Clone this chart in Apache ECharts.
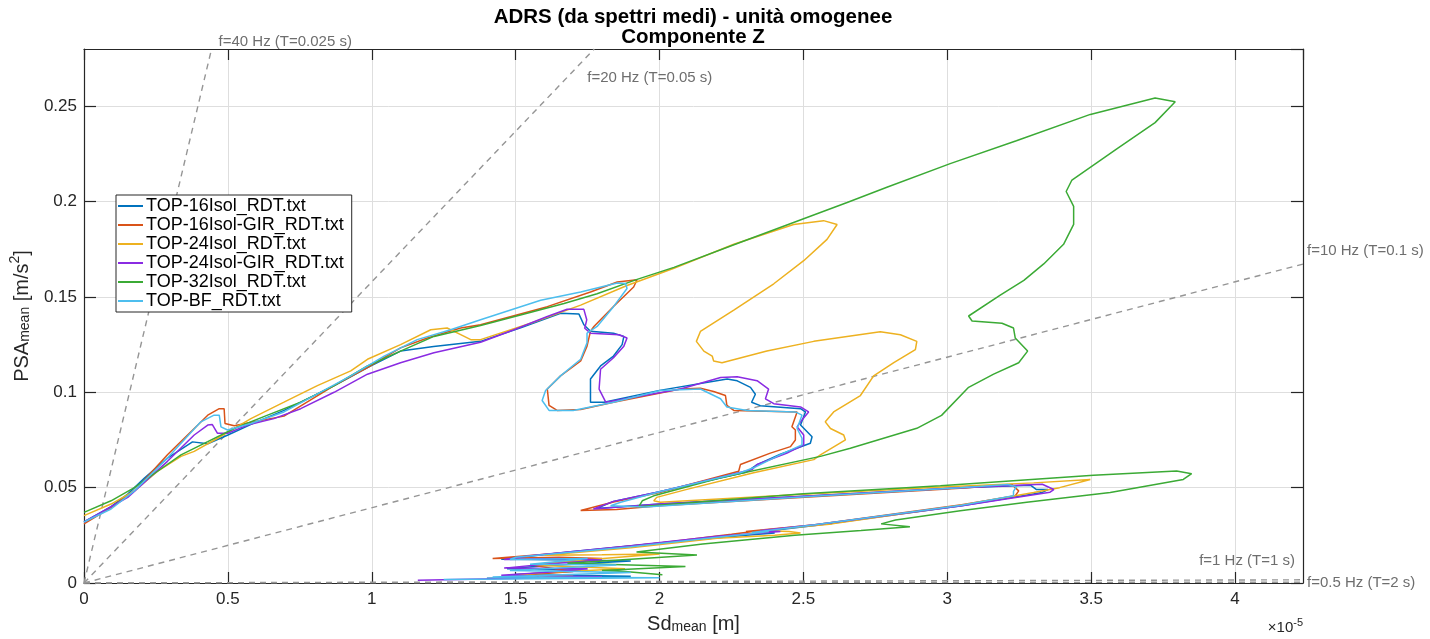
<!DOCTYPE html>
<html>
<head>
<meta charset="utf-8">
<script src="https://cdn.jsdelivr.net/npm/echarts@6/dist/echarts.min.js"></script>
<style>
  html, body { margin: 0; padding: 0; background: #fff; }
  #chart { width: 1430px; height: 639px; }
</style>
</head>
<body>
<div id="chart"></div>
<script>
// Sd values are in units of 1e-5 m (axis shows x10^-5), PSA in m/s^2
const NAMES = ['TOP-16Isol_RDT.txt', 'TOP-16Isol-GIR_RDT.txt', 'TOP-24Isol_RDT.txt',
  'TOP-24Isol-GIR_RDT.txt', 'TOP-32Isol_RDT.txt', 'TOP-BF_RDT.txt']
const COLORS = ['#0072BD', '#D95319', '#EDB120', '#8A2BE2', '#3BAA35', '#4DBEEE']

const X_TICKS = [0, 0.5, 1, 1.5, 2, 2.5, 3, 3.5, 4]
const Y_TICKS = [0, 0.05, 0.1, 0.15, 0.2, 0.25]
const X_MAX = 4.236
const Y_MAX = 0.28

// constant frequency lines (PSA = (2*pi*f)^2 * Sd)
const REF_FREQ = [40, 20, 10, 1, 0.5]
const REF_LABELS = ['f=40 Hz (T=0.025 s)', 'f=20 Hz (T=0.05 s)', 'f=10 Hz (T=0.1 s)', 'f=1 Hz (T=1 s)', 'f=0.5 Hz (T=2 s)']

const TOP16 = [
  [0, 0.032], [0.094, 0.040], [0.152, 0.0466], [0.21, 0.055], [0.29, 0.0655], [0.377, 0.074], [0.43, 0.073],
  [0.5, 0.0776], [0.59, 0.0838], [0.695, 0.0905], [0.87, 0.1035], [0.985, 0.113], [1.1, 0.1216], [1.215, 0.124],
  [1.378, 0.1267], [1.52, 0.134], [1.656, 0.1414], [1.72, 0.141], [1.737, 0.1354], [1.76, 0.132], [1.84, 0.131],
  [1.876, 0.1293], [1.87, 0.125], [1.84, 0.119], [1.795, 0.1138], [1.76, 0.107], [1.76, 0.0948], [1.807, 0.0948],
  [2.0, 0.101], [2.235, 0.107], [2.27, 0.106], [2.316, 0.1026], [2.333, 0.099], [2.32, 0.0948], [2.35, 0.093],
  [2.49, 0.0914], [2.507, 0.0897], [2.49, 0.0828], [2.53, 0.0767], [2.524, 0.0733], [2.42, 0.0675], [2.339, 0.0621],
  [2.3, 0.058], [2.0, 0.0478], [1.84, 0.0428], [1.78, 0.039], [2.0, 0.0414], [2.535, 0.0457], [3.045, 0.05],
  [3.29, 0.0512], [3.31, 0.049], [3.35, 0.049], [3.33, 0.0475], [3.05, 0.0405], [2.54, 0.0302], [2.36, 0.027],
  [2.4, 0.0262], [2.3, 0.025], [2.0, 0.021], [1.7, 0.0165], [1.45, 0.0125], [1.7, 0.012], [1.9, 0.0115],
  [1.6, 0.009], [1.47, 0.0075], [1.75, 0.0065], [1.5, 0.0045], [1.9, 0.0035], [1.4, 0.0025]
]
const TOP16GIR = [
  [0, 0.031], [0.094, 0.0395], [0.175, 0.0483], [0.29, 0.0672], [0.43, 0.088], [0.47, 0.0914], [0.487, 0.0914],
  [0.49, 0.0836], [0.522, 0.0824], [0.591, 0.0845], [0.695, 0.0875], [0.869, 0.1035], [0.985, 0.113], [1.1, 0.1233],
  [1.193, 0.1285], [1.309, 0.1337], [1.378, 0.1354], [1.61, 0.1449], [1.76, 0.1526], [1.853, 0.1578], [1.922, 0.159],
  [1.91, 0.1552], [1.84, 0.145], [1.772, 0.1345], [1.76, 0.132], [1.748, 0.1242], [1.726, 0.1164], [1.656, 0.1086],
  [1.61, 0.1017], [1.616, 0.0931], [1.644, 0.0905], [1.726, 0.091], [1.84, 0.0948], [2.073, 0.1017], [2.142, 0.1021],
  [2.188, 0.1004], [2.229, 0.0983], [2.234, 0.0931], [2.258, 0.0905], [2.478, 0.0897], [2.46, 0.0819], [2.472, 0.0802],
  [2.472, 0.075], [2.455, 0.0715], [2.385, 0.0681], [2.281, 0.0621], [2.275, 0.0586], [2.0, 0.0475], [1.84, 0.0425],
  [1.726, 0.038], [1.85, 0.0385], [2.0, 0.0405], [2.535, 0.0452], [3.045, 0.0497], [3.224, 0.0517], [3.248, 0.0483],
  [3.236, 0.0457], [3.05, 0.041], [2.54, 0.0305], [2.3, 0.027], [2.38, 0.028], [2.25, 0.0255], [2.0, 0.021],
  [1.7, 0.0163], [1.42, 0.0128], [1.65, 0.0135], [1.8, 0.0128], [1.55, 0.0095], [1.7, 0.006], [1.55, 0.0045], [1.58, 0.0035]
]
const TOP24 = [
  [0, 0.0353], [0.094, 0.0414], [0.175, 0.0483], [0.256, 0.0586], [0.337, 0.0664], [0.383, 0.069], [0.464, 0.0759],
  [0.58, 0.0862], [0.695, 0.0948], [0.811, 0.1035], [0.927, 0.1112], [0.985, 0.1173], [1.1, 0.125], [1.205, 0.1328],
  [1.262, 0.1337], [1.309, 0.1302], [1.344, 0.1276], [1.378, 0.1276], [1.552, 0.1362], [1.726, 0.1457], [1.887, 0.156],
  [2.05, 0.165], [2.258, 0.1776], [2.466, 0.188], [2.57, 0.19], [2.617, 0.188], [2.582, 0.1802], [2.501, 0.169],
  [2.397, 0.1569], [2.258, 0.1431], [2.142, 0.1319], [2.128, 0.1267], [2.154, 0.1216], [2.183, 0.119], [2.188, 0.1164],
  [2.217, 0.1155], [2.373, 0.1216], [2.536, 0.1267], [2.767, 0.1317], [2.837, 0.1302], [2.894, 0.1267], [2.889, 0.1224],
  [2.814, 0.1155], [2.744, 0.1086], [2.698, 0.0983], [2.605, 0.0897], [2.576, 0.0845], [2.594, 0.081], [2.64, 0.0776],
  [2.646, 0.075], [2.559, 0.0672], [2.536, 0.0647], [2.327, 0.0578], [2.095, 0.0491], [1.99, 0.0449], [1.98, 0.0431],
  [2.003, 0.0423], [2.5, 0.0465], [3.0, 0.0505], [3.3, 0.0525], [3.497, 0.0543], [3.39, 0.05], [3.3, 0.0475],
  [3.05, 0.0408], [2.6, 0.031], [2.35, 0.0275], [2.45, 0.027], [2.49, 0.0262], [2.4, 0.025], [2.2, 0.0235],
  [1.9, 0.0185], [1.6, 0.0145], [1.8, 0.0148], [2.0, 0.0152], [1.75, 0.0122], [1.55, 0.0095], [1.88, 0.0075],
  [1.6, 0.0055], [1.5, 0.0042], [1.7, 0.0035]
]
const TOP24GIR = [
  [0, 0.032], [0.152, 0.0449], [0.29, 0.0638], [0.383, 0.0776], [0.43, 0.0828], [0.446, 0.0831], [0.464, 0.0785],
  [0.499, 0.0785], [0.568, 0.0828], [0.66, 0.0862], [0.753, 0.0914], [0.869, 0.1], [0.985, 0.1095], [1.1, 0.1155],
  [1.216, 0.1207], [1.378, 0.1262], [1.494, 0.1328], [1.61, 0.1397], [1.679, 0.1435], [1.737, 0.1435], [1.747, 0.138],
  [1.74, 0.1336], [1.76, 0.131], [1.859, 0.1302], [1.887, 0.1285], [1.876, 0.1242], [1.84, 0.1181], [1.795, 0.1121],
  [1.79, 0.1017], [1.813, 0.0948], [2.073, 0.1017], [2.212, 0.1078], [2.27, 0.1081], [2.339, 0.1061], [2.379, 0.1017],
  [2.368, 0.0966], [2.397, 0.094], [2.49, 0.0923], [2.518, 0.0897], [2.49, 0.0845], [2.478, 0.0819], [2.501, 0.0776],
  [2.501, 0.0724], [2.443, 0.0681], [2.339, 0.0621], [2.322, 0.0595], [2.0, 0.0478], [1.84, 0.0428], [1.77, 0.0388],
  [2.0, 0.0414], [2.535, 0.0457], [3.045, 0.05], [3.33, 0.0518], [3.37, 0.049], [3.357, 0.0476], [3.05, 0.0405],
  [2.54, 0.0305], [2.35, 0.0275], [2.42, 0.027], [2.33, 0.026], [2.2, 0.0245], [1.9, 0.0195], [1.55, 0.0143],
  [1.46, 0.0123], [1.65, 0.0128], [1.8, 0.012], [1.6, 0.0098], [1.46, 0.0078], [1.75, 0.0075], [1.6, 0.0055],
  [1.45, 0.004], [1.8, 0.0033], [1.16, 0.0015]
]
const TOP32 = [
  [0, 0.037], [0.094, 0.0431], [0.175, 0.05], [0.256, 0.0586], [0.337, 0.0672], [0.43, 0.0741], [0.522, 0.081],
  [0.638, 0.088], [0.753, 0.0948], [0.869, 0.1035], [0.985, 0.1138], [1.1, 0.1216], [1.216, 0.1293], [1.378, 0.135],
  [1.54, 0.1414], [1.668, 0.1466], [1.783, 0.1517], [1.922, 0.1592], [2.05, 0.1655], [2.305, 0.18], [2.652, 0.1995],
  [2.79, 0.2075], [3.01, 0.2199], [3.24, 0.2319], [3.497, 0.2457], [3.722, 0.2543], [3.792, 0.2523], [3.722, 0.2414],
  [3.589, 0.2276], [3.433, 0.2113], [3.413, 0.2053], [3.439, 0.1975], [3.439, 0.188], [3.404, 0.1776], [3.335, 0.1673],
  [3.266, 0.1587], [3.184, 0.1509], [3.074, 0.14], [3.086, 0.1374], [3.19, 0.1362], [3.23, 0.1337], [3.236, 0.1285],
  [3.279, 0.1216], [3.248, 0.1155], [3.161, 0.1095], [3.074, 0.1026], [2.98, 0.0879], [2.894, 0.0811], [2.663, 0.0707],
  [2.559, 0.0664], [2.212, 0.0552], [1.98, 0.0457], [1.94, 0.0431], [1.928, 0.04], [2.5, 0.0468], [2.976, 0.051],
  [3.508, 0.0565], [3.797, 0.0587], [3.849, 0.0573], [3.82, 0.0543], [3.566, 0.0474], [3.276, 0.0423], [3.045, 0.0379],
  [2.82, 0.033], [2.77, 0.031], [2.87, 0.0295], [2.7, 0.0275], [2.47, 0.025], [2.15, 0.0205], [1.92, 0.0163],
  [2.13, 0.0147], [1.9, 0.0125], [1.68, 0.0103], [2.09, 0.0086], [1.8, 0.0065], [1.88, 0.006], [2.01, 0.0043]
]
const TOPBF = [
  [0, 0.032], [0.094, 0.0388], [0.175, 0.0483], [0.29, 0.0655], [0.406, 0.0845], [0.452, 0.088], [0.47, 0.088],
  [0.476, 0.0819], [0.499, 0.0802], [0.58, 0.0836], [0.695, 0.0897], [0.811, 0.0992], [0.927, 0.1086], [1.043, 0.119],
  [1.158, 0.1276], [1.274, 0.1328], [1.378, 0.138], [1.587, 0.1483], [1.726, 0.1526], [1.853, 0.1573], [1.882, 0.157],
  [1.887, 0.1544], [1.84, 0.1449], [1.783, 0.1345], [1.748, 0.131], [1.748, 0.1259], [1.726, 0.1173], [1.656, 0.1086],
  [1.604, 0.1009], [1.592, 0.0957], [1.616, 0.0905], [1.7, 0.0905], [1.84, 0.0948], [2.003, 0.1009], [2.142, 0.1017],
  [2.212, 0.0966], [2.234, 0.0923], [2.304, 0.0905], [2.472, 0.0897], [2.495, 0.088], [2.478, 0.081], [2.495, 0.0759],
  [2.495, 0.0724], [2.42, 0.0673], [2.327, 0.0604], [2.28, 0.0578], [2.0, 0.0478], [1.865, 0.0423], [1.83, 0.0405],
  [1.95, 0.0398], [2.535, 0.0455], [3.045, 0.05], [3.21, 0.0517], [3.24, 0.0505], [3.23, 0.048], [3.23, 0.0457],
  [3.05, 0.0408], [2.54, 0.0305], [2.32, 0.0265], [2.38, 0.027], [2.3, 0.0255], [2.2, 0.024], [1.9, 0.019],
  [1.5, 0.0135], [1.48, 0.0123], [1.75, 0.0128], [1.55, 0.0098], [1.85, 0.0095], [1.48, 0.0065], [1.9, 0.0055],
  [1.42, 0.0032], [2.0, 0.0028], [1.25, 0.0018]
]
const CURVES = [TOP16, TOP16GIR, TOP24, TOP24GIR, TOP32, TOPBF]

const FONT = '"Liberation Sans", Arial, sans-serif'
const AXIS_COLOR = '#262626'
const GRID = { left: 83, top: 49, right: 127, bottom: 49 }
// label placement relative to the end of each frequency line (px)
const REF_LABEL_POS = [
  { dx: 7, dy: -7, align: 'left' },
  { dx: -7, dy: 29, align: 'left' },
  { dx: 4, dy: -13, align: 'left' },
  { dx: -8, dy: -19, align: 'right' },
  { dx: 4, dy: 1, align: 'left' }
]

const chart = echarts.init(document.getElementById('chart'))

// end point of a constant-frequency line, clipped to the plot box
const refEnd = f => {
  const k = Math.pow(2 * Math.PI * f, 2) * 1e-5
  const x = Math.min(X_MAX, Y_MAX / k)
  return [x, k * x]
}

const refSeries = REF_FREQ.map(f => ({
  type: 'line',
  name: 'ref' + f,
  data: [[0, 0], refEnd(f)],
  symbol: 'none',
  silent: true,
  z: 1,
  lineStyle: { color: '#959595', width: 1.4, type: [6, 5] }
}))

const dataSeries = NAMES.map((name, i) => ({
  type: 'line',
  name: name,
  data: CURVES[i],
  symbol: 'none',
  z: 3,
  lineStyle: { color: COLORS[i], width: 1.5 },
  itemStyle: { color: COLORS[i] }
}))

const tickLabel = v => (X_TICKS.indexOf(+v.toFixed(3)) >= 0 || Y_TICKS.indexOf(+v.toFixed(3)) >= 0) ? String(+v.toFixed(3)) : ''

const boxLine = { show: true, onZero: false, lineStyle: { color: AXIS_COLOR, width: 1.2 } }
const boxTick = len => ({ show: true, inside: true, length: len, lineStyle: { color: AXIS_COLOR, width: 1.2 } })

const option = {
  animation: false,
  backgroundColor: '#fff',
  grid: GRID,
  legend: {
    data: NAMES,
    icon: 'rect',
    orient: 'vertical',
    left: 116,
    top: 195,
    backgroundColor: '#fff',
    borderColor: AXIS_COLOR,
    borderWidth: 1,
    borderRadius: 0,
    padding: [2, 8, 2, 2],
    itemGap: 1,
    itemWidth: 25,
    itemHeight: 2,
    textStyle: { fontFamily: FONT, fontSize: 18, color: '#000', lineHeight: 17, padding: [0, 0, 0, -2] }
  },
  xAxis: [
    {
      type: 'value', min: 0, max: X_MAX, interval: 0.5, position: 'bottom',
      name: '{a|Sd}{b|mean}{a| [m]}', nameLocation: 'middle', nameGap: 27,
      nameTextStyle: {
        rich: {
          a: { fontFamily: FONT, fontSize: 20, color: AXIS_COLOR, lineHeight: 24, verticalAlign: 'bottom' },
          b: { fontFamily: FONT, fontSize: 14, color: AXIS_COLOR, lineHeight: 10, verticalAlign: 'bottom' }
        }
      },
      axisLine: boxLine,
      axisTick: boxTick(11),
      axisLabel: { fontFamily: FONT, fontSize: 17, color: AXIS_COLOR, margin: 8, showMaxLabel: false, formatter: tickLabel },
      splitLine: { show: true, lineStyle: { color: '#dedede', width: 1 } }
    },
    {
      type: 'value', min: 0, max: X_MAX, interval: 0.5, position: 'top',
      axisLine: boxLine,
      axisTick: boxTick(11),
      axisLabel: { show: false },
      splitLine: { show: false }
    }
  ],
  yAxis: [
    {
      type: 'value', min: 0, max: Y_MAX, interval: 0.05, position: 'left',
      name: '{a|PSA}{b|mean}{a| [m/s}{c|2}{a|]}', nameLocation: 'middle', nameGap: 52, nameRotate: 90,
      nameTextStyle: {
        rich: {
          a: { fontFamily: FONT, fontSize: 20, color: AXIS_COLOR, lineHeight: 24, verticalAlign: 'bottom' },
          b: { fontFamily: FONT, fontSize: 14, color: AXIS_COLOR, lineHeight: 10, verticalAlign: 'bottom' },
          c: { fontFamily: FONT, fontSize: 14, color: AXIS_COLOR, lineHeight: 10, verticalAlign: 'top' }
        }
      },
      axisLine: boxLine,
      axisTick: boxTick(12),
      axisLabel: { fontFamily: FONT, fontSize: 17, color: AXIS_COLOR, margin: 7, showMaxLabel: false, formatter: tickLabel },
      splitLine: { show: true, lineStyle: { color: '#dedede', width: 1 } }
    },
    {
      type: 'value', min: 0, max: Y_MAX, interval: 0.05, position: 'right',
      axisLine: boxLine,
      axisTick: boxTick(12),
      axisLabel: { show: false },
      splitLine: { show: false }
    }
  ],
  series: refSeries.concat(dataSeries)
}

chart.setOption(option)

// texts placed from the plot box / line ends
const plotCx = GRID.left + (1430 - GRID.left - GRID.right) / 2
const graphics = [
  {
    type: 'text', x: plotCx, y: 17,
    style: { text: 'ADRS (da spettri medi) - unità omogenee', fontFamily: FONT, fontWeight: 'bold', fontSize: 20.5, fill: '#000', align: 'center', verticalAlign: 'middle' }
  },
  {
    type: 'text', x: plotCx, y: 37,
    style: { text: 'Componente Z', fontFamily: FONT, fontWeight: 'bold', fontSize: 20.5, fill: '#000', align: 'center', verticalAlign: 'middle' }
  },
  {
    type: 'text', x: 1430 - GRID.right, y: 626,
    style: {
      text: '{a|×10}{b|-5}', align: 'right', verticalAlign: 'middle',
      rich: {
        a: { fontFamily: FONT, fontSize: 15, fill: AXIS_COLOR, lineHeight: 18, verticalAlign: 'bottom' },
        b: { fontFamily: FONT, fontSize: 11, fill: AXIS_COLOR, lineHeight: 8, verticalAlign: 'top' }
      }
    }
  }
]
REF_FREQ.forEach((f, i) => {
  const p = chart.convertToPixel({ xAxisIndex: 0, yAxisIndex: 0 }, refEnd(f))
  const pos = REF_LABEL_POS[i]
  graphics.push({
    type: 'text', x: p[0] + pos.dx, y: p[1] + pos.dy, z: 10,
    style: { text: REF_LABELS[i], fontFamily: FONT, fontSize: 15, fill: '#6e6e6e', align: pos.align, verticalAlign: 'middle' }
  })
})
chart.setOption({ graphic: graphics })
</script>
</body>
</html>
